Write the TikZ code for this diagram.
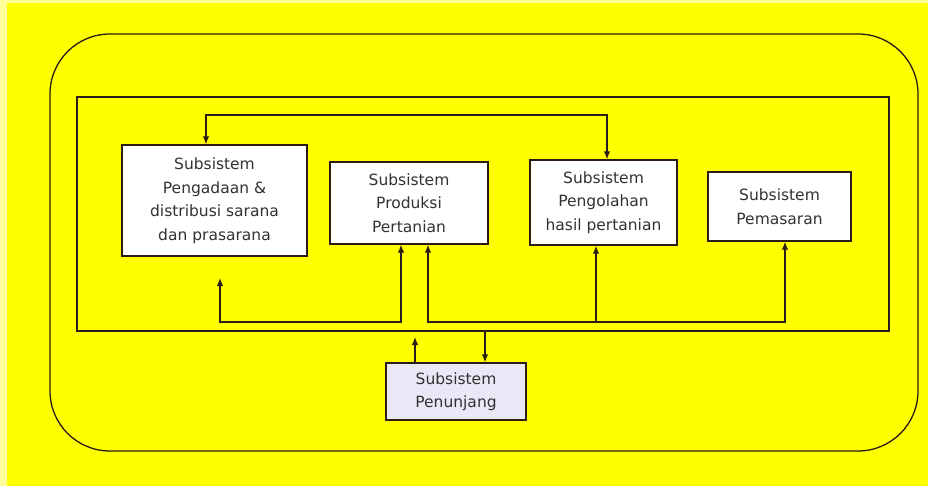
\documentclass[tikz,border=0pt]{standalone}
\usepackage{fontspec}
\setmainfont{DejaVu Sans}
\usetikzlibrary{arrows.meta}

\begin{document}
\begin{tikzpicture}[x=1pt,y=-1pt,
  subbox/.style={draw=linecolor,fill=white,line width=1.3pt,inner sep=0pt,align=center,
    text=textcolor,font=\fontsize{15.5}{23.5}\selectfont},
  conn/.style={draw=linecolor,line width=1.3pt,>={Latex[length=8pt,width=6.5pt]}}]
\definecolor{linecolor}{RGB}{43,29,20} % Definition of the line color
\definecolor{textcolor}{RGB}{50,50,50} % Definition of the text color
\definecolor{fillcolor}{RGB}{255,255,0} % Definition of the background color
\definecolor{boxcolor}{RGB}{232,232,246} % Definition of the support box color
\useasboundingbox (0,0) rectangle (928,486); % Size of the picture
\fill[fillcolor] (0,0) rectangle (928,486); % Yellow background
\fill[white!60!fillcolor] (0,0) rectangle (7,486); % Pale strip on the left
\fill[white!60!fillcolor] (0,0) rectangle (928,3); % Pale strip on the top
\draw[draw=linecolor,line width=1.3pt,rounded corners=60pt] (50,34) rectangle (918,451); % Outer rounded frame
\node[draw=linecolor,line width=1.3pt,minimum width=812pt,minimum height=234pt,inner sep=0pt] (kerangka) at (483,214) {}; % Inner frame
% the subsystems
\node[subbox,minimum width=185pt,minimum height=111pt] (pengadaan) at (214.5,200.5) {Subsistem\\Pengadaan \&\\distribusi sarana\\dan prasarana};
\node[subbox,minimum width=158pt,minimum height=82pt] (produksi) at (409,203) {Subsistem\\Produksi\\Pertanian};
\node[subbox,minimum width=147pt,minimum height=85pt] (pengolahan) at (603.5,202.5) {Subsistem\\Pengolahan\\hasil pertanian};
\node[subbox,minimum width=143pt,minimum height=69pt] (pemasaran) at (779.5,206.5) {Subsistem\\Pemasaran};
\node[subbox,fill=boxcolor,minimum width=140pt,minimum height=57pt] (penunjang) at (456,391.5) {Subsistem\\Penunjang};
% the connectors
\coordinate (topl) at (206,115); % Top line, left end
\coordinate (topr) at (607,115); % Top line, right end
\draw[conn,<->] (topl |- pengadaan.north) -- (topl) -- (topr) -- (topr |- pengolahan.north);
\coordinate (bawahl) at (220,322); % Bottom left line, left end
\coordinate (ujung) at (220,278); % Free end of the left arrow
\coordinate (bawahm) at (401,322); % Bottom left line, right end
\draw[conn,<->] (ujung) -- (bawahl) -- (bawahm) -- (bawahm |- produksi.south);
\coordinate (kananl) at (428,322); % Bottom right line, left end
\coordinate (kananm) at (596,322); % Bottom right line, middle
\coordinate (kananr) at (785,322); % Bottom right line, right end
\draw[conn,<->] (kananl |- produksi.south) -- (kananl) -- (kananr) -- (kananr |- pemasaran.south);
\draw[conn,->] (kananm) -- (kananm |- pengolahan.south);
\coordinate (naik) at (415,337); % Tip of the upward arrow
\draw[conn,->] (naik |- penunjang.north) -- (naik);
\coordinate (turun) at (485,331); % Start of the downward arrow
\draw[conn,->] (turun |- kerangka.south) -- (turun |- penunjang.north);
\end{tikzpicture}
\end{document}
